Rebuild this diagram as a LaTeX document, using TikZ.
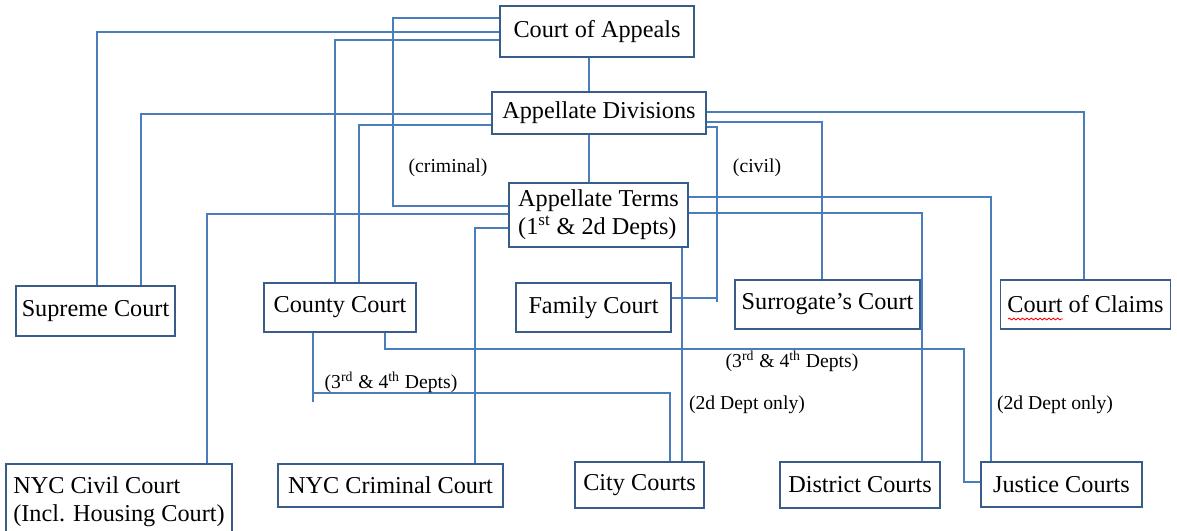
\documentclass[tikz,border=0pt]{standalone}
\usepackage{fontspec}
\setmainfont{Liberation Serif}
\usetikzlibrary{decorations.pathmorphing}
\definecolor{boxblue}{RGB}{56,93,138}
\definecolor{lineblue}{RGB}{74,126,187}
\newcommand{\boxfont}{\fontsize{13.8}{16}\selectfont}
\newcommand{\notefont}{\fontsize{11.2}{13}\selectfont}

\begin{document}
\begin{tikzpicture}[x=0.02cm, y=-0.02cm,
  court/.style={rectangle, draw=boxblue, line width=1pt, inner sep=2pt, font=\boxfont},
  link/.style={draw=lineblue, line width=0.9pt},
  note/.style={inner sep=0pt, font=\notefont}]
\useasboundingbox (0,0) rectangle (1177,531);

% Top levels
\node[court, minimum width=3.88cm, minimum height=1.02cm] (appeals) at (597,31.5) {Court of Appeals};
\node[court, minimum width=4.28cm, minimum height=0.84cm] (divisions) at (599,113) {Appellate Divisions};
\node[court, minimum width=3.58cm, minimum height=1.28cm, align=left] (terms) at (598.5,215) {Appellate Terms\\(1\textsuperscript{st} \& 2d Depts)};

% Middle row
\node[court, minimum width=3.18cm, minimum height=1.0cm] (supreme) at (95.5,311) {Supreme Court};
\node[court, minimum width=3.04cm, minimum height=0.98cm] (county) at (340,307.5) {County Court};
\node[court, minimum width=3.1cm, minimum height=0.98cm] (family) at (593.5,307.5) {Family Court};
\node[court, minimum width=3.7cm, minimum height=0.98cm] (surrogate) at (827.5,304.5) {Surrogate’s Court};
\node[court, minimum width=3.4cm, minimum height=0.98cm] (claims) at (1085.5,304.5) {Court of Claims};
\draw[red, line width=0.5pt, decorate, decoration={snake, amplitude=0.5pt, segment length=2.5pt}] (1008,319) -- (1063,319);

% Bottom row
\node[court, minimum width=4.52cm, minimum height=1.5cm, align=left] (civil) at (119,501.5) {NYC Civil Court\\(Incl. Housing Court)};
\node[court, minimum width=4.5cm, minimum height=0.86cm] (criminal) at (390.5,485.5) {NYC Criminal Court};
\node[court, minimum width=2.58cm, minimum height=0.92cm] (city) at (639.5,485) {City Courts};
\node[court, minimum width=3.2cm, minimum height=0.92cm] (district) at (860,485) {District Courts};
\node[court, minimum width=3.22cm, minimum height=0.9cm] (justice) at (1061.5,484.5) {Justice Courts};

% From the Court of Appeals
\draw[link] (appeals.south -| 589,0) -- (divisions.north -| 589,0);
\draw[link] (appeals.west |- 0,18) -| (393,206) -- (terms.west |- 0,206);
\draw[link] (appeals.west |- 0,32) -| (supreme.north -| 97,0);
\draw[link] (appeals.west |- 0,40) -| (county.north -| 335,0);

% From the Appellate Divisions
\draw[link] (divisions.south -| 589,0) -- (terms.north -| 589,0);
\draw[link] (divisions.west |- 0,114) -| (supreme.north -| 141,0);
\draw[link] (divisions.west |- 0,125) -| (county.north -| 359,0);
\draw[link] (divisions.east |- 0,112) -| (claims.north -| 1084,0);
\draw[link] (divisions.east |- 0,122) -| (surrogate.north -| 822,0);
\draw[link] (divisions.east |- 0,127) -| (717,302) (717,298) -- (family.east |- 0,298);

% From the Appellate Terms
\draw[link] (terms.west |- 0,214) -| (civil.north -| 207,0);
\draw[link] (terms.west |- 0,228) -| (criminal.north -| 475,0);
\draw[link] (terms.east |- 0,197) -| (justice.north -| 991,0);
\draw[link] (terms.east |- 0,213) -| (district.north -| 922,0);
\draw[link] (terms.south -| 682,0) -- (city.north -| 682,0);

% From the County Court
\draw[link] (county.south -| 313,0) -- (313,402) (313,393) -| (city.north -| 670,0);
\draw[link] (county.south -| 385,0) |- (964,349) |- (justice.west |- 0,482);

% Labels
\node[note] (crimnote) at (448,168) {(criminal)};
\node[note] (civnote) at (757,168) {(civil)};
\node[note] (deptsleft) at (391,382) {(3\textsuperscript{rd} \& 4\textsuperscript{th} Depts)};
\node[note] (deptsright) at (792,361) {(3\textsuperscript{rd} \& 4\textsuperscript{th} Depts)};
\node[note] (cityonly) at (747,405) {(2d Dept only)};
\node[note] (justonly) at (1055,405) {(2d Dept only)};
\end{tikzpicture}
\end{document}
